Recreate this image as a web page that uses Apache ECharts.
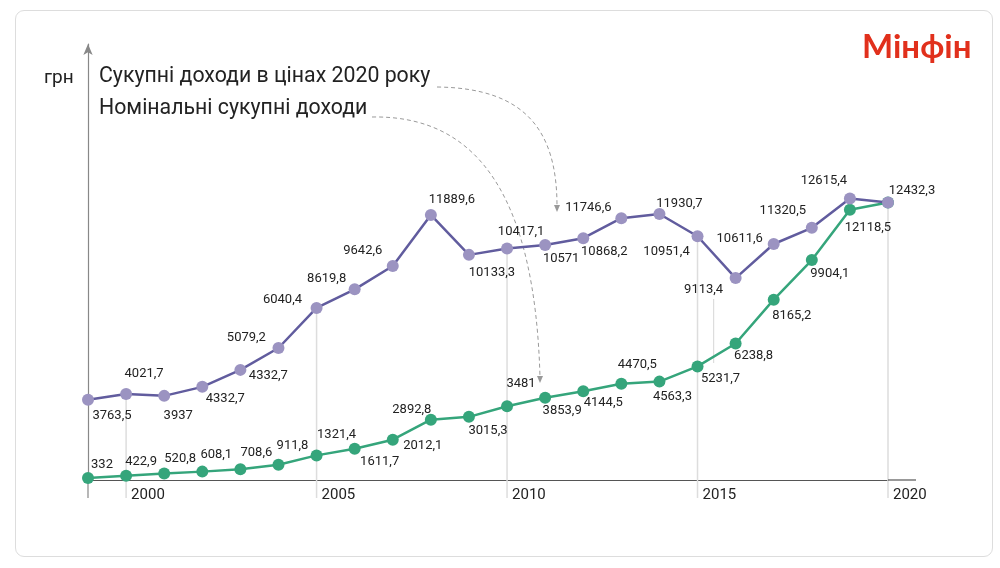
<!DOCTYPE html>
<html>
<head>
<meta charset="utf-8">
<script src="https://cdn.jsdelivr.net/npm/echarts@6/dist/echarts.min.js"></script>
<style>
html, body { margin: 0; padding: 0; background: #fff; }
#wrap { position: relative; width: 1000px; height: 568px; }
#card { position: absolute; left: 15px; top: 10px; width: 976px; height: 545px; border: 1px solid #ddd; border-radius: 9px; }
#chart { position: absolute; left: 0; top: 0; width: 1000px; height: 568px; }
</style>
</head>
<body>
<div id="wrap">
  <div id="card"></div>
  <div id="chart"></div>
</div>
<script>
// years and incomes, grn
var years = ['1999', '2000', '2001', '2002', '2003', '2004', '2005', '2006', '2007', '2008', '2009',
             '2010', '2011', '2012', '2013', '2014', '2015', '2016', '2017', '2018', '2019', '2020'];
var realIncome = [3763.5, 4021.7, 3937, 4332.7, 5079.2, 6040.4, 7800, 8619.8, 9642.6, 11889.6, 10133.3,
                  10417.1, 10571, 10868.2, 11746.6, 11930.7, 10951.4, 9113.4, 10611.6, 11320.5, 12615.4, 12432.3];
var nominalIncome = [332, 422.9, 520.8, 608.1, 708.6, 911.8, 1321.4, 1611.7, 2012.1, 2892.8, 3015.3,
                     3481, 3853.9, 4144.5, 4470.5, 4563.3, 5231.7, 6238.8, 8165.2, 9904.1, 12118.5, 12432.3];
var tickYears = ['2000', '2005', '2010', '2015', '2020'];
var titleReal = 'Сукупні доходи в цінах 2020 року';
var titleNominal = 'Номінальні сукупні доходи';
var unitLabel = 'грн';
var logoText = 'Мінфін';

// where each value label sits relative to its marker (null = no label)
var realLabelOffset = [[24, 16], [18, -20], [14, 20], [23, 12], [6, -32], [4, -48], null, [-28, -11], [-30, -15],
    [21, -15], [23, 18], [14, -17], [16, 14], [21, 14], [-33, -10], [20, -10], [-31, 15], [-32, 12], [-34, -5],
    [-29, -17], [-26, -18], [24, -12]];
var nominalLabelOffset = [[14, -13], [15, -14], [16, -15], [14, -17], [16, -17], [14, -19], [20, -21], [25, 13],
    [30, 6], [-19, -10], [19, 14], [14, -22], [17, 13], [20, 12], [16, -19], [13, 15], [23, 12], [18, 12],
    [18, 16], [18, 14], [18, 18], null];

var PURPLE_LINE = '#615c9e';
var PURPLE_DOT = '#9b93c1';
var GREEN = '#35a57b';
var TEXT = '#222';
var FONT = 'Roboto';

function fmt(v) {
    return String(v).replace('.', ',');
}

function items(values, offsets) {
    return values.map(function(v, i) {
        var o = offsets[i];
        return {
            value: v,
            label: o ? {show: true, position: 'inside', offset: o} : {show: false}
        };
    });
}

var labelStyle = {
    color: TEXT,
    fontSize: 13,
    fontFamily: FONT,
    formatter: function(p) { return fmt(p.value); }
};

var chart = echarts.init(document.getElementById('chart'));
chart.setOption({
    animation: false,
    grid: {left: 88, right: 112, top: 44, bottom: 88},
    xAxis: {
        type: 'category',
        boundaryGap: false,
        data: years,
        axisTick: {show: false},
        axisLine: {lineStyle: {color: '#555', width: 1.2}},
        axisLabel: {
            interval: function(idx, val) { return tickYears.indexOf(val) >= 0; },
            align: 'left',
            padding: [0, 0, 0, 5],
            margin: 8,
            fontSize: 15,
            fontFamily: FONT,
            color: TEXT
        }
    },
    yAxis: {
        type: 'value',
        // axis bottom sits a little above zero, as in the picture
        min: 240,
        max: 19400,
        splitLine: {show: false},
        axisTick: {show: false},
        axisLabel: {show: false},
        axisLine: {
            show: true,
            symbol: ['none', 'arrow'],
            symbolSize: [7, 11],
            lineStyle: {color: '#888', width: 1.2}
        }
    },
    series: [{
        name: titleNominal,
        type: 'line',
        data: items(nominalIncome, nominalLabelOffset),
        symbol: 'circle',
        symbolSize: 12,
        lineStyle: {color: GREEN, width: 2.5},
        itemStyle: {color: GREEN},
        label: labelStyle,
        z: 3
    }, {
        name: titleReal,
        type: 'line',
        data: items(realIncome, realLabelOffset),
        symbol: 'circle',
        symbolSize: 12,
        lineStyle: {color: PURPLE_LINE, width: 2.5},
        itemStyle: {color: PURPLE_DOT},
        label: labelStyle,
        z: 4
    }]
});

// decorations that hang off the plotted points
var g = [];
var axisY = chart.convertToPixel({yAxisIndex: 0}, 240);
var first = chart.convertToPixel({seriesIndex: 1}, [0, realIncome[0]]);
var last = chart.convertToPixel({seriesIndex: 1}, [years.length - 1, realIncome[years.length - 1]]);

// drop lines from the real-income points at the labelled years
tickYears.forEach(function(y) {
    var i = years.indexOf(y);
    var p = chart.convertToPixel({seriesIndex: 1}, [i, realIncome[i]]);
    g.push({type: 'line', z: 1, shape: {x1: p[0], y1: p[1], x2: p[0], y2: axisY + 18},
            style: {stroke: '#ddd', lineWidth: 1.5}});
});
// y axis runs a bit below the x axis
g.push({type: 'line', z: 1, shape: {x1: first[0], y1: axisY, x2: first[0], y2: axisY + 18},
        style: {stroke: '#888', lineWidth: 1.2}});
// x axis runs a bit past 2020
g.push({type: 'line', z: 1, shape: {x1: last[0], y1: axisY, x2: last[0] + 28, y2: axisY},
        style: {stroke: '#555', lineWidth: 1.2}});
// short stray guide under the 2016 label
var p16 = chart.convertToPixel({seriesIndex: 1}, [17, realIncome[17]]);
g.push({type: 'line', z: 1, shape: {x1: p16[0] - 22, y1: p16[1] + 21, x2: p16[0] - 22, y2: p16[1] + 85},
        style: {stroke: '#ddd', lineWidth: 1.2}});
// repeated label next to 2003 point
var p03 = chart.convertToPixel({seriesIndex: 1}, [4, realIncome[4]]);
g.push({type: 'text', z: 10, x: p03[0] + 28, y: p03[1] + 6,
        style: {text: fmt(realIncome[3]), fill: TEXT, font: '13px ' + FONT, align: 'center', verticalAlign: 'middle'}});

// titles
g.push({type: 'text', left: 44, top: 69, style: {text: unitLabel, fill: TEXT, font: '19px ' + FONT}});
g.push({type: 'text', left: 99, top: 66, style: {text: titleReal, fill: TEXT, font: '21.3px ' + FONT}});
g.push({type: 'text', left: 99, top: 98, style: {text: titleNominal, fill: TEXT, font: '21.3px ' + FONT}});
g.push({type: 'text', left: 862, top: 31, style: {text: logoText, fill: '#e1301c', font: 'bold 33px Lato'}});

// dashed pointers from the titles
g.push({type: 'bezierCurve', z: 1,
        shape: {x1: 437, y1: 87, cpx1: 525, cpy1: 88, cpx2: 557, cpy2: 130, x2: 557, y2: 206},
        style: {stroke: '#999', lineWidth: 1, lineDash: [4, 3], fill: null}});
g.push({type: 'polygon', z: 1, shape: {points: [[554, 205], [560, 205], [557, 212]]}, style: {fill: '#999'}});
g.push({type: 'bezierCurve', z: 1,
        shape: {x1: 372, y1: 117, cpx1: 480, cpy1: 115, cpx2: 535, cpy2: 200, x2: 540, y2: 377},
        style: {stroke: '#999', lineWidth: 1, lineDash: [4, 3], fill: null}});
g.push({type: 'polygon', z: 1, shape: {points: [[537, 376], [543, 376], [540, 383]]}, style: {fill: '#999'}});

chart.setOption({graphic: g});
</script>
</body>
</html>
